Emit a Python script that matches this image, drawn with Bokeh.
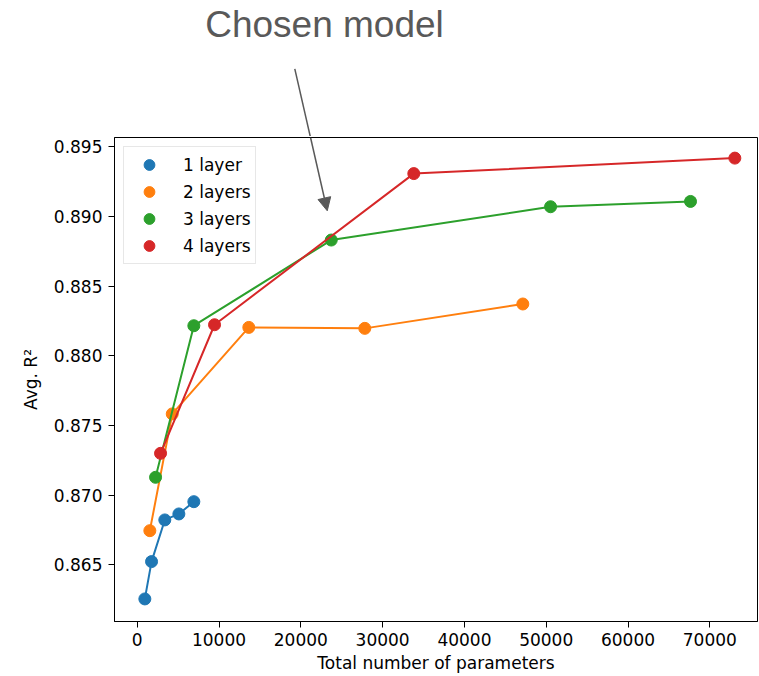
from bokeh.plotting import figure
from bokeh.layouts import column
from bokeh.models import (Range1d, FixedTicker, NumeralTickFormatter, Label,
                          Arrow, NormalHead, Legend, LegendItem)
from bokeh.embed import file_html
from bokeh.resources import INLINE

# ---- data ----
series_names = ["1 layer", "2 layers", "3 layers", "4 layers"]
colors = ["#1f77b4", "#ff7f0e", "#2ca02c", "#d62728"]

params_1 = [930, 1750, 3370, 5090, 6920]
r2_1 = [0.86255, 0.86523, 0.86822, 0.86865, 0.86953]

params_2 = [1540, 4280, 13640, 27820, 47140]
r2_2 = [0.86745, 0.87583, 0.88204, 0.88197, 0.88372]

params_3 = [2240, 6920, 23720, 50530, 67640]
r2_3 = [0.87128, 0.88216, 0.88831, 0.89070, 0.89108]

params_4 = [2850, 9450, 33810, 73060]
r2_4 = [0.87300, 0.88223, 0.89308, 0.89419]

x_ticks = [0, 10000, 20000, 30000, 40000, 50000, 60000, 70000]
y_ticks = [0.865, 0.870, 0.875, 0.880, 0.885, 0.890, 0.895]

annotation_text = "Chosen model"
ANN_COLOR = "#595959"

LEFT, RIGHT = 114, 2
FRAME_W = 759 - LEFT - RIGHT

# ---- top strip: annotation text and upper part of the arrow ----
TOP_H = 136
top = figure(width=759, height=TOP_H, output_backend="svg", toolbar_location=None,
             x_range=Range1d(LEFT, LEFT + FRAME_W), y_range=Range1d(TOP_H, 0),
             x_axis_type=None, y_axis_type=None,
             min_border_left=LEFT, min_border_right=RIGHT,
             min_border_top=0, min_border_bottom=0)
top.frame_width = FRAME_W
top.frame_height = TOP_H
top.outline_line_color = None
top.xgrid.visible = False
top.ygrid.visible = False
top.background_fill_color = "white"
top.border_fill_color = "white"
top.add_layout(Label(x=324, y=24, text=annotation_text,
                     text_align="center", text_baseline="middle",
                     text_font="Liberation Sans", text_font_size="37px",
                     text_color=ANN_COLOR))
top.add_layout(Arrow(end=None, x_start=294.3, y_start=68.3, x_end=310.0,
                     y_end=137, line_color=ANN_COLOR, line_width=1.5))

# ---- main figure ----
FONT = "DejaVu Sans"
p = figure(width=759, height=676 - TOP_H, output_backend="svg",
           toolbar_location=None,
           x_range=Range1d(-2780, 75830), y_range=Range1d(0.86093, 0.89567),
           min_border_left=LEFT, min_border_right=RIGHT, min_border_top=1,
           min_border_bottom=55)
p.frame_width = FRAME_W
p.frame_height = 484

p.background_fill_color = "white"
p.border_fill_color = "white"
p.outline_line_color = "black"
p.outline_line_width = 1
p.xgrid.visible = False
p.ygrid.visible = False

for ax in (p.xaxis[0], p.yaxis[0]):
    ax.axis_line_color = "black"
    ax.major_tick_line_color = "black"
    ax.major_tick_out = 6
    ax.major_tick_in = 0
    ax.minor_tick_line_color = None
    ax.major_label_text_font = FONT
    ax.major_label_text_font_size = "17px"
    ax.major_label_text_color = "black"
    ax.axis_label_text_font = FONT
    ax.axis_label_text_font_size = "17px"
    ax.axis_label_text_font_style = "normal"
    ax.axis_label_text_color = "black"

p.xaxis.ticker = FixedTicker(ticks=x_ticks)
p.yaxis.ticker = FixedTicker(ticks=y_ticks)
p.xaxis.formatter = NumeralTickFormatter(format="0")
p.yaxis.formatter = NumeralTickFormatter(format="0.000")
p.xaxis.major_label_standoff = 5
p.yaxis.major_label_standoff = 6
p.xaxis.axis_label = "Total number of parameters"
p.yaxis.axis_label = "Avg. R\u00b2"
p.xaxis.axis_label_standoff = 4
p.yaxis.axis_label_standoff = 10

all_x = [params_1, params_2, params_3, params_4]
all_y = [r2_1, r2_2, r2_3, r2_4]

items = []
for name, c, xs, ys in zip(series_names, colors, all_x, all_y):
    p.line(xs, ys, line_color=c, line_width=2)
    r = p.scatter(xs, ys, size=12, fill_color=c, line_color=c, marker="circle")
    items.append(LegendItem(label=name, renderers=[r]))

legend = Legend(items=items, location="top_left", margin=9, padding=4,
                spacing=0, glyph_width=42, glyph_height=27, label_height=27,
                label_standoff=13, label_text_font=FONT,
                label_text_font_size="17px", label_text_color="black",
                border_line_color="#d0d0d0", border_line_width=1,
                background_fill_color="white", background_fill_alpha=0.85)
p.add_layout(legend)

# lower part of the arrow (inside the plot frame)
p.add_layout(Arrow(end=NormalHead(size=13, fill_color=ANN_COLOR,
                                  line_color=ANN_COLOR),
                   x_start=21186, y_start=0.89567, x_end=23230, y_end=0.89041,
                   line_color=ANN_COLOR, line_width=1.5))

layout = column(top, p, spacing=0)
open("out.html", "w").write(file_html(layout, INLINE))
